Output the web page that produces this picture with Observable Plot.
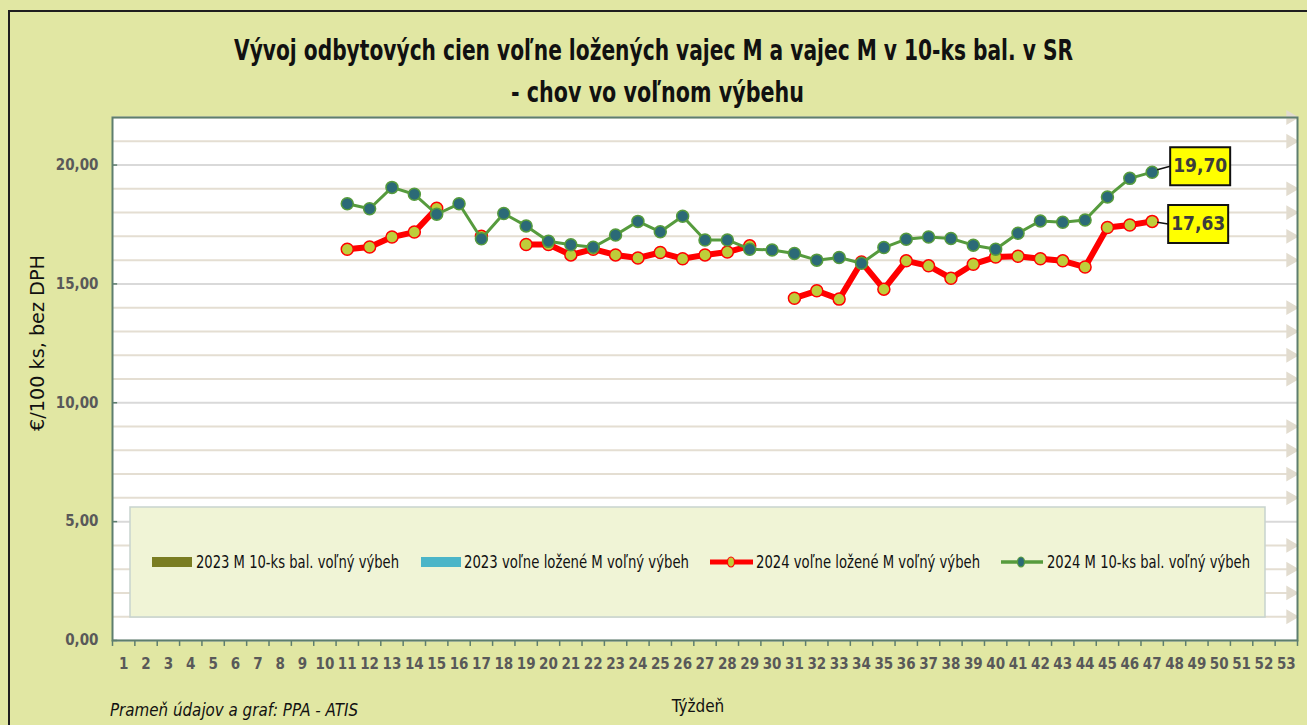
<!DOCTYPE html>
<html><head><meta charset="utf-8">
<script src="https://cdn.jsdelivr.net/npm/d3@7"></script>
<script src="https://cdn.jsdelivr.net/npm/@observablehq/plot@0.6"></script>
<style>
html,body{margin:0;padding:0;background:#e1e7a3;}
#wrap{position:relative;width:1307px;height:725px;overflow:hidden;background:#e1e7a3;}
#border{position:absolute;left:8px;top:10px;width:1400px;height:800px;border-left:2px solid #1e1e1e;border-top:2px solid #1e1e1e;box-sizing:border-box;}
#chart,#title,#legend,#texts{position:absolute;left:0;top:0;}
</style></head>
<body>
<div id="wrap">
  <div id="border"></div>
  <div id="chart"></div>
  <svg id="title" width="1307" height="117"></svg>
  <svg id="texts" width="1307" height="725" style="pointer-events:none"></svg>
  <svg id="legend" width="1307" height="725" style="pointer-events:none"></svg>
</div>
<script>
// ---- data ----
const weeks = d3.range(1, 54);                       // x-axis categories 1..53
const weeks2024 = d3.range(11, 48);                  // weeks with 2024 data
const green2024 = [18.37, 18.16, 19.06, 18.77, 17.93, 18.37, 16.90, 17.96, 17.44, 16.79,
                   16.65, 16.54, 17.06, 17.63, 17.19, 17.85, 16.85, 16.85, 16.46, 16.43,
                   16.28, 16.00, 16.11, 15.87, 16.53, 16.88, 16.97, 16.91, 16.63, 16.46,
                   17.13, 17.65, 17.59, 17.69, 18.66, 19.44, 19.70];
const red2024 =   [16.46, 16.55, 16.97, 17.18, 18.18, null, 17.00, null, 16.66, 16.66,
                   16.22, 16.46, 16.22, 16.09, 16.32, 16.06, 16.22, 16.34, 16.60, null,
                   14.40, 14.71, 14.36, 15.92, 14.78, 15.97, 15.76, 15.24, 15.83, 16.13,
                   16.16, 16.06, 15.97, 15.71, 17.37, 17.48, 17.63];
const green2023 = [];   // in legend only
const blue2023 = [];    // in legend only
const yMajor = [0, 5, 10, 15, 20];
const yMinor = [1,2,3,4,6,7,8,9,11,12,13,14,16,17,18,19,21,22];
const titleLines = ["Vývoj odbytových cien voľne ložených vajec M a vajec M v 10-ks bal. v SR", "- chov vo voľnom výbehu"];
const seriesNames = ["2023 M 10-ks bal. voľný výbeh", "2023 voľne ložené M voľný výbeh", "2024 voľne ložené M voľný výbeh", "2024 M 10-ks bal. voľný výbeh"];
const yLabel = "€/100 ks, bez DPH";
const xLabel = "Týždeň";
const source = "Prameň údajov a graf: PPA - ATIS";

const FONT = "'Liberation Sans Narrow','Arial Narrow','DejaVu Sans Condensed','Liberation Sans',sans-serif";
const fmt = d => d.toFixed(2).replace(".", ",");

const data = weeks2024.map((w, i) => ({week: w, red: red2024[i], green: green2024[i]}));
const lastG = [{week: weeks2024.at(-1), v: green2024.at(-1)}];
const lastR = [{week: weeks2024.at(-1), v: red2024.at(-1)}];
const bounds = d3.range(0.5, 54, 1);

const boxSym = {draw(ctx){ ctx.rect(-30, -19, 60, 38); }};
const leadG = {draw(ctx){ ctx.moveTo(5, -2.5); ctx.lineTo(18, -6); }};
const leadR = {draw(ctx){ ctx.moveTo(5, 0.8); ctx.lineTo(16, 2.5); }};

const chart = Plot.plot({
  width: 1307, height: 725,
  marginLeft: 112, marginRight: 10, marginTop: 117, marginBottom: 85,
  style: {background: "transparent", fontFamily: FONT, overflow: "visible"},
  x: {domain: [0.5, 53.5], axis: null},
  y: {domain: [0, 22], axis: null},
  marks: [
    Plot.frame({fill: "white", stroke: null}),
    Plot.gridY(yMinor, {stroke: "#e4ded2", strokeOpacity: 1, strokeWidth: 2}),
    Plot.gridY(yMajor, {stroke: "#d9d9d9", strokeOpacity: 1, strokeWidth: 2}),
    Plot.dot(yMinor, {x: () => 53.19, y: d => d, symbol: "triangle", rotate: 90, r: 5.5, fill: "#e2dccf", stroke: null}),
    Plot.ruleY(yMajor, {y: d => d, x1: 0.5, x2: 0.73, stroke: "#5e7e6e", strokeWidth: 1.5}),
    Plot.ruleX(bounds, {x: d => d, y1: 0, y2: -0.25, stroke: "#5e7e6e", strokeWidth: 1.5}),
    Plot.frame({stroke: "#5e7e6e", strokeWidth: 2}),
    Plot.axisY(yMajor, {tickSize: 0, tickPadding: 14, tickFormat: fmt, fontSize: 15, fontWeight: "bold", fill: "#595959", label: null}),
    Plot.axisX(weeks, {tickSize: 0, tickPadding: 18, tickFormat: d => String(d), fontSize: 15, fontWeight: "bold", fill: "#595959", label: null}),
    Plot.line(data, {x: "week", y: "red", stroke: "#ff0000", strokeWidth: 6, curve: "linear"}),
    Plot.dot(data, {x: "week", y: "red", r: 6, fill: "#bfcd3a", stroke: "#ff0000", strokeWidth: 1.5}),
    Plot.line(data, {x: "week", y: "green", stroke: "#569b3d", strokeWidth: 3}),
    Plot.dot(data, {x: "week", y: "green", r: 6, fill: "#2b6a77", stroke: "#569b3d", strokeWidth: 1.5}),
    Plot.dot(lastG, {x: "week", y: "v", symbol: leadG, stroke: "#111", strokeWidth: 1.5, fill: "none"}),
    Plot.dot(lastR, {x: "week", y: "v", symbol: leadR, stroke: "#111", strokeWidth: 1.5, fill: "none"}),
    Plot.dot(lastG, {x: "week", y: "v", symbol: boxSym, dx: 48, dy: -6, fill: "#ffff00", stroke: "#111", strokeWidth: 2}),
    Plot.dot(lastR, {x: "week", y: "v", symbol: boxSym, dx: 46, dy: 2.5, fill: "#ffff00", stroke: "#111", strokeWidth: 2}),
    Plot.text(lastG, {x: "week", y: "v", text: d => fmt(d.v), dx: 48, dy: -6, fontSize: 19, fontWeight: "bold", fill: "#3c3c3c"}),
    Plot.text(lastR, {x: "week", y: "v", text: d => fmt(d.v), dx: 46, dy: 2.5, fontSize: 19, fontWeight: "bold", fill: "#3c3c3c"})
  ]
});
document.getElementById("chart").appendChild(chart);

// ---- titles & axis labels ----
const NS = "http://www.w3.org/2000/svg";
function txt(svg, s, attrs) {
  const t = document.createElementNS(NS, "text");
  for (const k in attrs) t.setAttribute(k, attrs[k]);
  t.textContent = s;
  svg.appendChild(t);
  return t;
}
const tsvg = document.getElementById("title");
txt(tsvg, titleLines[0], {x: 234, y: 60, "font-family": FONT, "font-size": 28, "font-weight": "bold", fill: "#111", textLength: 839, lengthAdjust: "spacingAndGlyphs"});
txt(tsvg, titleLines[1], {x: 511, y: 102, "font-family": FONT, "font-size": 28, "font-weight": "bold", fill: "#111", textLength: 293, lengthAdjust: "spacingAndGlyphs"});

const xs = document.getElementById("texts");
txt(xs, yLabel, {x: 0, y: 0, transform: "translate(44,343) rotate(-90)", "text-anchor": "middle", "font-family": FONT, "font-size": 20, fill: "#111", textLength: 176, lengthAdjust: "spacingAndGlyphs"});
txt(xs, xLabel, {x: 698, y: 712, "text-anchor": "middle", "font-family": FONT, "font-size": 17, fill: "#111"});
txt(xs, source, {x: 110, y: 716, "font-family": FONT, "font-size": 17, "font-style": "italic", fill: "#111", textLength: 248, lengthAdjust: "spacingAndGlyphs"});

// ---- legend ----
const lg = document.getElementById("legend");
function el(tag, attrs) { const e = document.createElementNS(NS, tag); for (const k in attrs) e.setAttribute(k, attrs[k]); lg.appendChild(e); return e; }
el("rect", {x: 130, y: 507, width: 1135, height: 110, fill: "#f0f4d6", stroke: "#c7d3ce", "stroke-width": 1.5});
const LY = 562;
el("rect", {x: 152, y: LY - 5, width: 40, height: 10, fill: "#7a7d22"});
el("rect", {x: 421, y: LY - 5, width: 40, height: 10, fill: "#4bb5c8"});
el("line", {x1: 710, x2: 753, y1: LY, y2: LY, stroke: "#ff0000", "stroke-width": 5});
el("ellipse", {cx: 731, cy: LY, rx: 3.5, ry: 5, fill: "#bfcd3a", stroke: "#ff0000", "stroke-width": 1.2});
el("line", {x1: 1001, x2: 1043, y1: LY, y2: LY, stroke: "#569b3d", "stroke-width": 3.5});
el("ellipse", {cx: 1021, cy: LY, rx: 3.5, ry: 5, fill: "#2b6a77", stroke: "#569b3d", "stroke-width": 1.2});
const lx = [196, 464, 756, 1047], lw = [203, 225, 224, 203];
seriesNames.forEach((s, i) => {
  const t = el("text", {x: lx[i], y: LY + 6, "font-family": FONT, "font-size": 17, fill: "#111", textLength: lw[i], lengthAdjust: "spacingAndGlyphs"});
  t.textContent = s;
});
</script>
</body></html>
